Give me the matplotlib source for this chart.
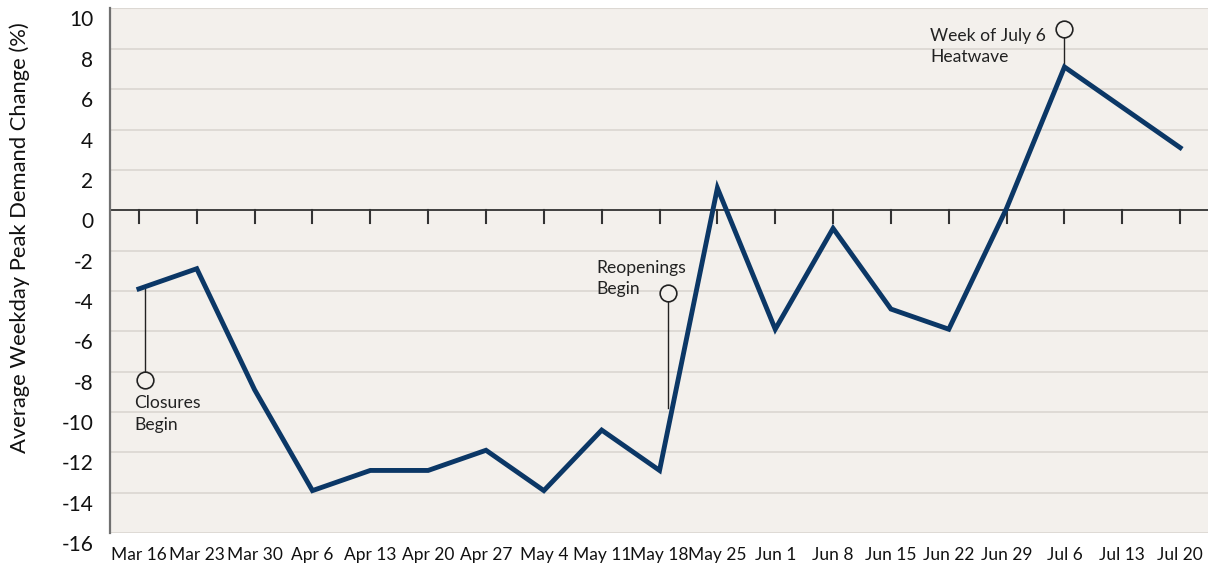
import numpy as np
import matplotlib
matplotlib.use("Agg")
import matplotlib.pyplot as plt
from matplotlib.transforms import ScaledTranslation

plt.rcParams['font.family'] = ['Lato', 'DejaVu Sans']

# weekly data
weeks = ["Mar 16", "Mar 23", "Mar 30", "Apr 6", "Apr 13", "Apr 20", "Apr 27",
         "May 4", "May 11", "May 18", "May 25", "Jun 1", "Jun 8", "Jun 15",
         "Jun 22", "Jun 29", "Jul 6", "Jul 13", "Jul 20"]
peak_change = [-3.9, -2.9, -8.9, -13.9, -12.9, -12.9, -11.9, -13.9, -10.9, -12.9,
               1.1, -5.9, -0.9, -4.9, -5.9, 0.1, 7.1, 5.1, 3.1]
y_ticks = list(range(-16, 11, 2))

# annotations: (x position, circle value, line end value, text, text x, text y)
notes = [
    (0.1, -8.4, -3.9, "Closures\nBegin", -0.08, -9.15),
    (9.15, -4.1, -9.8, "Reopenings\nBegin", 7.9, -2.45),
    (16.0, 9.0, 7.1, "Week of July 6\nHeatwave", 13.68, 9.05),
]

navy = "#0b3766"
bg = "#f3f0ec"

fig = plt.figure(figsize=(12.1, 5.64), dpi=100)
ax = fig.add_axes([0.0909, 0.055, 0.9074, 0.930])
ax.set_facecolor(bg)

x = np.arange(len(weeks))
ax.set_xlim(-0.5, len(weeks) - 0.52)
ax.set_ylim(-16, 10)

# grid
for v in y_ticks:
    if v != 0:
        ax.axhline(v, color="#dcd8d3", lw=1.3, zorder=1)
ax.axhline(0, color="#222222", lw=1.2, zorder=2)
ax.axhline(10, color="#dcd8d3", lw=1.5, zorder=1)

# small tick marks below the zero line
for xi in x:
    ax.plot([xi, xi], [0, -0.62], color="#333333", lw=1.5, zorder=2)

ax.plot(x, peak_change, color=navy, lw=3.5, solid_joinstyle="miter", zorder=4)

for xp, yc, yl, txt, tx, ty in notes:
    ax.plot([xp, xp], [yc, yl], color="#222222", lw=1.0, zorder=3)
    ax.plot(xp, yc, marker="o", ms=12, mfc=bg, mec="#222222", mew=1.2, zorder=5)
    ax.text(tx, ty, txt, fontsize=12.6, color="#222222", va="top", ha="left",
            linespacing=1.45, zorder=5)

for s in ["top", "right", "bottom"]:
    ax.spines[s].set_visible(False)
ax.spines["left"].set_color("#707070")
ax.spines["left"].set_linewidth(1.6)

ax.set_yticks(y_ticks)
ax.set_yticklabels([str(v) for v in y_ticks], fontsize=15, color="#111111")
ax.tick_params(axis="y", length=0, pad=12)
offset = ScaledTranslation(0, -0.1, fig.dpi_scale_trans)
for lab in ax.get_yticklabels():
    lab.set_transform(lab.get_transform() + offset)

ax.set_xticks(x)
ax.set_xticklabels(weeks, fontsize=12.5, color="#111111")
ax.tick_params(axis="x", length=0, pad=10)

ax.set_ylabel("Average Weekday Peak Demand Change (%)", fontsize=15.8, color="#111111")
ax.yaxis.set_label_coords(-0.073, 0.564)

fig.savefig("out.png", dpi=100, facecolor="white")
